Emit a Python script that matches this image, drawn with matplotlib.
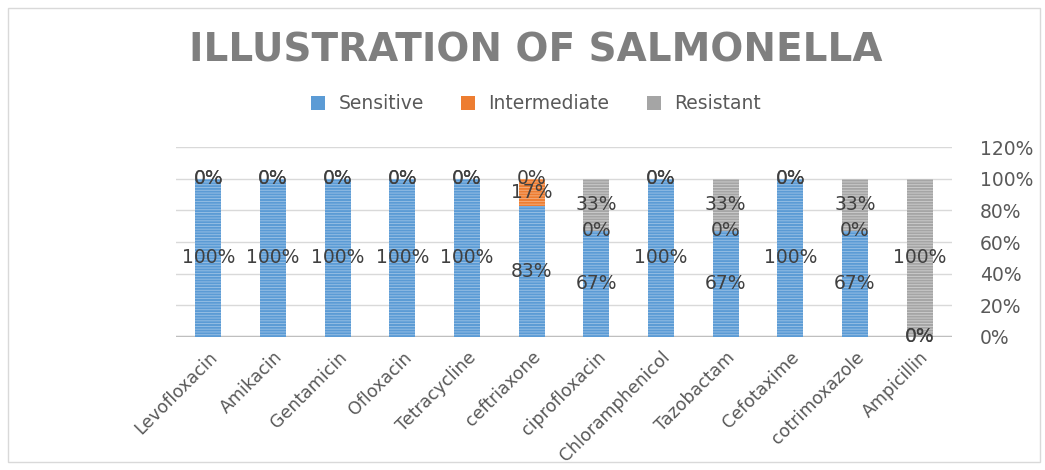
import numpy as np
import matplotlib.pyplot as plt
from matplotlib.patches import Rectangle

# datos
categories = ["Levofloxacin", "Amikacin", "Gentamicin", "Ofloxacin", "Tetracycline",
              "ceftriaxone", "ciprofloxacin", "Chloramphenicol", "Tazobactam",
              "Cefotaxime", "cotrimoxazole", "Ampicillin"]
sensitive = [100, 100, 100, 100, 100, 83, 67, 100, 67, 100, 67, 0]
intermediate = [0, 0, 0, 0, 0, 17, 0, 0, 0, 0, 0, 0]
resistant = [0, 0, 0, 0, 0, 0, 33, 0, 33, 0, 33, 100]
series_names = ["Sensitive", "Intermediate", "Resistant"]
y_ticks = [0, 20, 40, 60, 80, 100, 120]

COLORS = ["#5B9BD5", "#ED7D31", "#A5A5A5"]
HATCH_COLORS = ["#9DC3E6", "#F4B183", "#D0D0D0"]
TEXT_DARK = "#404040"
TEXT_GRAY = "#595959"

plt.rcParams["font.family"] = ["DejaVu Sans"]
plt.rcParams["hatch.linewidth"] = 0.6

fig = plt.figure(figsize=(10.45, 4.70), dpi=100)
ax = fig.add_axes([0.1684, 0.283, 0.7426, 0.404])

x = np.arange(len(categories))
width = 0.40
bottom = np.zeros(len(categories))
handles = []
for name, vals, col, hcol in zip(series_names, [sensitive, intermediate, resistant],
                                 COLORS, HATCH_COLORS):
    vals = np.asarray(vals, dtype=float)
    bars = ax.bar(x, vals, width, bottom=bottom, color=col, edgecolor=hcol,
                  linewidth=0, hatch="------", label=name, zorder=2)
    handles.append(bars)
    for xi, b, v in zip(x, bottom, vals):
        ax.text(xi, b + v / 2, f"{v:.0f}%", ha="center", va="center",
                fontsize=13.5, color=TEXT_DARK, zorder=3)
    bottom = bottom + vals

ax.set_xlim(-0.5, len(categories) - 0.5)
ax.set_ylim(0, 120)
ax.set_yticks(y_ticks)
ax.set_yticklabels([f"{t}%" for t in y_ticks])
ax.yaxis.tick_right()
ax.tick_params(axis="y", length=0, pad=20, labelsize=13.5, labelcolor=TEXT_GRAY)
ax.grid(axis="y", color="#D9D9D9", linewidth=1, zorder=0)
ax.set_axisbelow(True)

ax.set_xticks(x)
ax.set_xticklabels(categories, rotation=45, ha="right", rotation_mode="anchor")
ax.tick_params(axis="x", length=0, pad=8, labelsize=12.5, labelcolor=TEXT_GRAY)

for s in ["top", "right", "left", "bottom"]:
    ax.spines[s].set_visible(False)
ax.axhline(0, color="#BFBFBF", linewidth=2.5, zorder=1)

fig.text(0.513, 0.893, "ILLUSTRATION OF SALMONELLA", ha="center", va="center",
         fontsize=28, fontweight="bold", color="#7F7F7F")

leg = fig.legend(handles=handles, labels=series_names, loc="center",
                 bbox_to_anchor=(0.513, 0.779), ncol=3, frameon=False,
                 fontsize=13.5, handlelength=0.75, handleheight=0.75,
                 columnspacing=2.0, handletextpad=0.7)
for t in leg.get_texts():
    t.set_color(TEXT_GRAY)
for p, col in zip(leg.legend_handles, COLORS):
    p.set_hatch(None)
    p.set_facecolor(col)

fig.patches.append(Rectangle((0.008, 0.017), 0.987, 0.966, transform=fig.transFigure,
                             fill=False, edgecolor="#D9D9D9", linewidth=1))

fig.savefig("out.png", dpi=100)
